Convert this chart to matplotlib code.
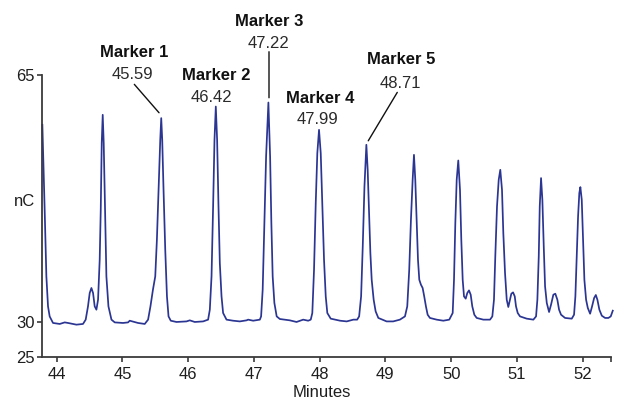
import matplotlib
matplotlib.use("Agg")
import matplotlib.pyplot as plt
from matplotlib.transforms import offset_copy

# Detector trace (retention time in minutes, signal in nC)
minutes = [
    43.782, 43.791, 43.817, 43.843, 43.868, 43.893, 43.944, 44.046, 44.122, 44.172,
    44.300, 44.400, 44.441, 44.476, 44.502, 44.528, 44.553, 44.578, 44.604, 44.629,
    44.654, 44.670, 44.685, 44.700, 44.715, 44.735, 44.756, 44.787, 44.833, 44.883,
    45.009, 45.085,
    45.111, 45.237, 45.339, 45.390, 45.426, 45.464, 45.499, 45.524, 45.549, 45.575,
    45.590, 45.605, 45.625, 45.651, 45.677, 45.701, 45.735, 45.822, 45.974, 46.024,
    46.100, 46.227, 46.303, 46.329, 46.355, 46.379, 46.400, 46.420, 46.440, 46.461,
    46.481, 46.507, 46.531, 46.583, 46.683, 46.785, 46.887, 46.912, 46.988, 47.090,
    47.109, 47.133, 47.159, 47.185, 47.220, 47.246, 47.265, 47.285, 47.311, 47.346,
    47.394, 47.546,
    47.648, 47.749, 47.825, 47.864, 47.888, 47.914, 47.940, 47.964, 47.990, 48.016,
    48.040, 48.066, 48.092, 48.116, 48.168, 48.310, 48.411, 48.512, 48.570, 48.600,
    48.630, 48.655, 48.681, 48.710, 48.730, 48.751, 48.771, 48.791, 48.821, 48.851,
    48.892, 49.018, 49.118, 49.220, 49.297, 49.332, 49.362, 49.388, 49.414, 49.434,
    49.454, 49.475, 49.495, 49.515, 49.540, 49.566, 49.590, 49.616, 49.642, 49.677,
    49.779, 49.880, 49.971,
    50.023, 50.043, 50.063, 50.084, 50.108, 50.134, 50.154, 50.175, 50.195, 50.221,
    50.245, 50.271, 50.297, 50.321, 50.352, 50.388, 50.489, 50.591, 50.626, 50.651,
    50.671, 50.697, 50.723, 50.747, 50.773, 50.793, 50.819, 50.845, 50.869, 50.895,
    50.915, 50.941, 50.967, 50.986, 51.012, 51.047, 51.149, 51.250, 51.291, 51.311,
    51.332, 51.347, 51.367, 51.387, 51.408, 51.428, 51.454, 51.489, 51.519, 51.554,
    51.584, 51.615, 51.641, 51.671, 51.732, 51.834, 51.869, 51.889, 51.910, 51.930,
    51.949, 51.965, 51.986, 52.006, 52.026, 52.052, 52.078, 52.113, 52.143, 52.174,
    52.200, 52.224, 52.254, 52.291, 52.341, 52.391, 52.427, 52.458,
]
signal_nc = [
    57.91, 54.84, 45.88, 36.45, 32.21, 30.79, 29.86, 29.72, 29.94, 29.86,
    29.62, 29.72, 30.33, 32.21, 34.10, 34.81, 34.10, 32.21, 31.74, 33.15,
    38.81, 45.88, 55.36, 59.32, 55.36, 45.88, 36.45, 32.21, 30.33, 29.94,
    29.86, 29.94,
    30.18, 29.86, 29.72, 30.33, 32.21, 34.57, 36.45, 41.64, 48.71, 55.78,
    58.85, 55.78, 48.71, 40.23, 33.62, 30.79, 30.18, 30.00, 30.08, 30.23,
    30.00, 30.08, 30.33, 31.74, 36.45, 46.35, 55.78, 60.49, 55.78, 46.35,
    38.35, 33.62, 31.27, 30.33, 30.18, 30.08, 30.23, 30.33, 30.18, 30.33,
    30.79, 34.57, 44.00, 53.42, 61.06, 53.42, 44.00, 36.45, 32.69, 30.79,
    30.42, 30.23,
    30.00, 30.33, 30.18, 30.33, 31.27, 37.40, 46.83, 53.90, 57.20, 53.90,
    46.83, 38.81, 33.62, 31.27, 30.47, 30.18, 30.08, 30.33, 30.33, 30.79,
    33.62, 40.69, 49.18, 55.08, 51.54, 45.42, 39.76, 35.98, 33.15, 31.50,
    30.57, 30.08, 30.08, 30.33, 30.79, 32.21, 37.40, 44.47, 50.13, 53.66,
    50.13, 44.47, 38.81, 35.98, 35.28, 34.81, 33.62, 32.21, 31.03, 30.57,
    30.33, 30.18, 30.33,
    31.27, 35.98, 44.00, 50.13, 52.86, 48.71, 41.64, 35.98, 33.62, 33.30,
    34.10, 34.47, 33.86, 32.21, 31.03, 30.57, 30.33, 30.33, 30.79, 33.15,
    39.28, 46.35, 50.13, 51.54, 48.71, 42.59, 36.93, 33.15, 32.12, 33.15,
    34.00, 34.19, 33.62, 32.21, 31.27, 30.79, 30.47, 30.33, 30.79, 33.15,
    39.28, 46.35, 50.37, 47.30, 40.69, 35.04, 32.69, 31.41, 32.45, 33.86,
    34.00, 33.15, 31.74, 31.03, 30.57, 30.47, 31.03, 33.62, 39.28, 44.94,
    48.25, 49.09, 47.30, 41.64, 35.98, 33.15, 31.98, 31.17, 32.21, 33.39,
    33.82, 33.15, 31.74, 30.89, 30.57, 30.57, 30.79, 31.60,
]
assert len(minutes) == len(signal_nc)

marker_names = ["Marker 1", "Marker 2", "Marker 3", "Marker 4", "Marker 5"]
marker_times = [45.59, 46.42, 47.22, 47.99, 48.71]

x_ticks = [44, 45, 46, 47, 48, 49, 50, 51, 52]
y_ticks = [25, 30, 65]

# Label placement relative to each marked peak top, in pixels:
# (name dx, name dy, value dx, value dy, leader line or None)
label_layout = [
    (-27.0, 60.9, -29.0, 38.8, ((-26.9, 33.8), (-2.2, 5.4))),
    (0.5, 27.0, -4.8, 4.2, None),
    (0.3, 77.0, -0.1, 54.5, ((0.6, 50.8), (0.6, 4.8))),
    (0.7, 26.8, -2.0, 5.7, None),
    (35.3, 80.5, 34.4, 56.7, ((30.9, 52.4), (1.9, 4.0))),
]

plt.rcParams["font.family"] = ["Liberation Sans", "DejaVu Sans"]
trace_color = "#2B3592"
axis_color = "#3A3A3A"
text_color = "#1E1E1E"

fig = plt.figure(figsize=(6.22, 4.0), dpi=100)
ax = fig.add_axes([0.0680, 0.10675, 0.9138, 0.7065])

ax.plot(minutes, signal_nc, color=trace_color, lw=1.25, clip_on=False,
        solid_joinstyle="round")

ax.set_xlim(43.781, 52.426)
ax.set_ylim(25, 65)
ax.set_xticks(x_ticks)
ax.set_xticks([ax.get_xlim()[1]], minor=True)
ax.set_yticks(y_ticks)
ax.set_xticklabels([str(t) for t in x_ticks])
ax.set_yticklabels([str(t) for t in y_ticks])

for side in ("top", "right"):
    ax.spines[side].set_visible(False)
for side in ("left", "bottom"):
    ax.spines[side].set_color(axis_color)
    ax.spines[side].set_linewidth(1.3)

ax.tick_params(axis="both", which="both", direction="out", length=3.6,
               width=1.2, color=axis_color, labelsize=12, labelcolor=text_color)
ax.tick_params(axis="x", pad=3.6)
ax.tick_params(axis="y", pad=1.6)

ax.set_xlabel("Minutes", fontsize=12, color=text_color)
ax.xaxis.label.set_va("center")
ax.xaxis.set_label_coords(0.492, -0.1246)
ax.set_ylabel("nC", fontsize=12, color=text_color, rotation=0,
              ha="right", va="center")
ax.yaxis.set_label_coords(-0.0128, 0.553)

# Peak labels and leader lines
lookup = dict(zip(minutes, signal_nc))
for name, t, layout in zip(marker_names, marker_times, label_layout):
    top = lookup[t]
    ndx, ndy, vdx, vdy, leader = layout
    ax.annotate(name, xy=(t, top), xytext=(ndx, ndy), textcoords="offset pixels",
                ha="center", va="baseline", fontsize=12, fontweight="bold",
                color="#111111", annotation_clip=False)
    ax.annotate(f"{t:.2f}", xy=(t, top), xytext=(vdx, vdy),
                textcoords="offset pixels", ha="center", va="baseline",
                fontsize=12, color="#2A2A2A", annotation_clip=False)
    if leader is not None:
        (x1, y1), (x2, y2) = leader
        end_tr = offset_copy(ax.transData, fig=fig, x=x2, y=y2, units="dots")
        ax.annotate("", xy=(t, top), xycoords=end_tr,
                    xytext=(x1 - x2, y1 - y2), textcoords="offset pixels",
                    arrowprops=dict(arrowstyle="-", color="#111111", lw=1.0,
                                    shrinkA=0, shrinkB=0),
                    annotation_clip=False)

fig.savefig("out.png", dpi=100)
